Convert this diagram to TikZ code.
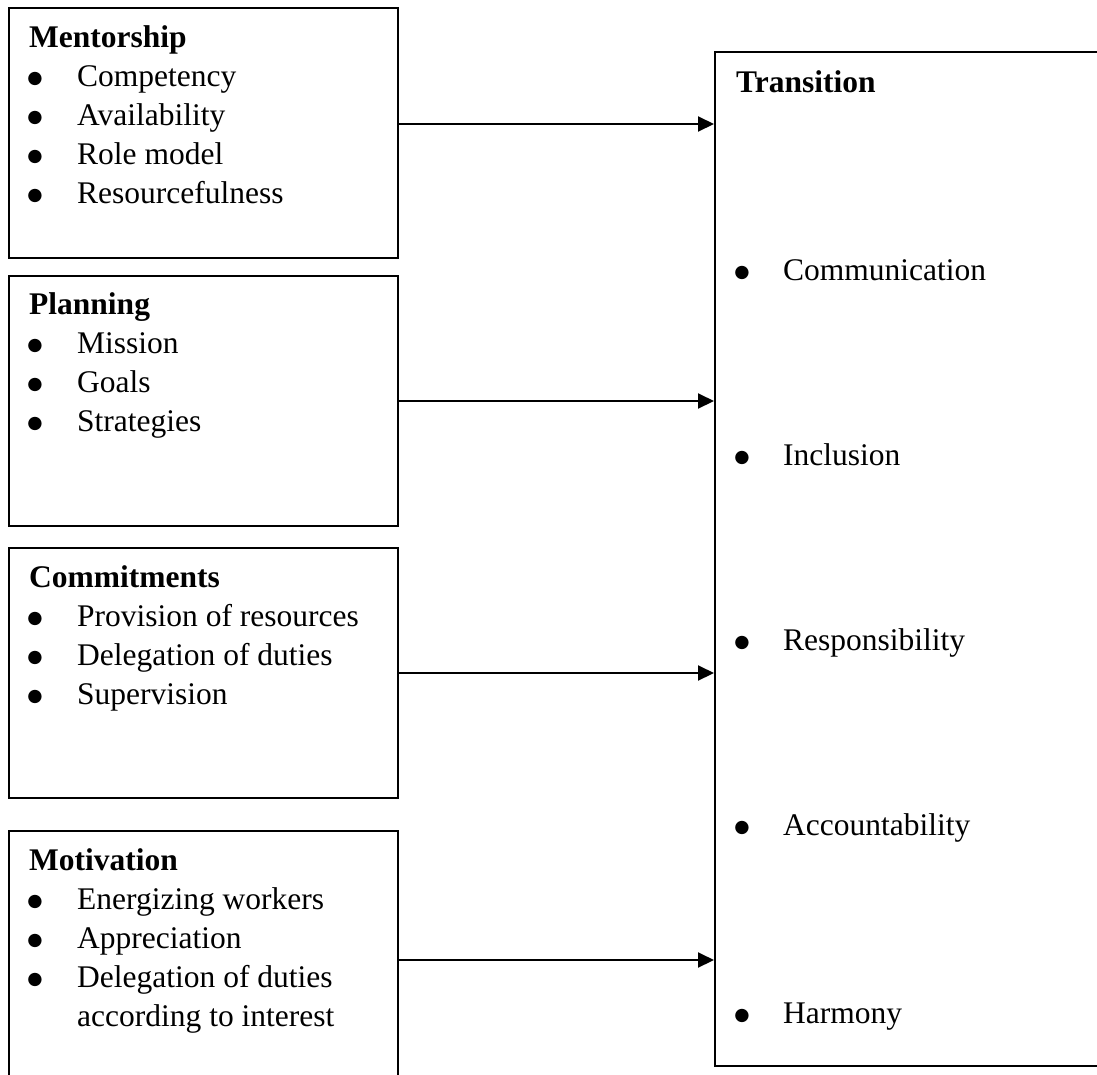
\documentclass[tikz,border=0pt]{standalone}
\usepackage{fontspec}
\setmainfont{Liberation Serif}
\newfontfamily\bulletfont{DejaVu Sans}
\usetikzlibrary{arrows.meta}
\begin{document}
\begin{tikzpicture}[x=1pt,y=-1pt,
  box/.style={draw, line width=2pt, inner sep=0pt, anchor=north west},
  txt/.style={anchor=base west, inner sep=0pt, font=\fontsize{31.5}{39}\selectfont},
  head/.style={anchor=base west, inner sep=0pt, font=\fontsize{31.5}{39}\selectfont\bfseries},
  bul/.style={anchor=base, inner sep=0pt, yshift=2.5pt, font=\bulletfont\fontsize{17.5}{17.5}\selectfont},
  arr/.style={line width=2pt, -{Triangle[length=16pt,width=15pt]}}]
\useasboundingbox (0,0) rectangle (1097,1074);
\clip (0,0) rectangle (1097,1074);

% left boxes
\node[box, minimum width=389pt, minimum height=250pt] (b1) at (8,7) {};
\node[box, minimum width=389pt, minimum height=250pt] (b2) at (8,275) {};
\node[box, minimum width=389pt, minimum height=250pt] (b3) at (8,547) {};
\node[box, minimum width=389pt, minimum height=260pt] (b4) at (8,830) {};
% right box
\node[box, minimum width=400pt, minimum height=1014pt] (tr) at (714,51) {};

% Mentorship
\node[head] (h1) at (29,47) {Mentorship};
\node[bul] (b1d1) at (35,86) {●};  \node[txt] (b1t1) at (77,86) {Competency};
\node[bul] (b1d2) at (35,125) {●}; \node[txt] (b1t2) at (77,125) {Availability};
\node[bul] (b1d3) at (35,164) {●}; \node[txt] (b1t3) at (77,164) {Role model};
\node[bul] (b1d4) at (35,203) {●}; \node[txt] (b1t4) at (77,203) {Resourcefulness};

% Planning
\node[head] (h2) at (29,314) {Planning};
\node[bul] (b2d1) at (35,353) {●}; \node[txt] (b2t1) at (77,353) {Mission};
\node[bul] (b2d2) at (35,392) {●}; \node[txt] (b2t2) at (77,392) {Goals};
\node[bul] (b2d3) at (35,431) {●}; \node[txt] (b2t3) at (77,431) {Strategies};

% Commitments
\node[head] (h3) at (29,587) {Commitments};
\node[bul] (b3d1) at (35,626) {●}; \node[txt] (b3t1) at (77,626) {Provision of resources};
\node[bul] (b3d2) at (35,665) {●}; \node[txt] (b3t2) at (77,665) {Delegation of duties};
\node[bul] (b3d3) at (35,704) {●}; \node[txt] (b3t3) at (77,704) {Supervision};

% Motivation
\node[head] (h4) at (29,870) {Motivation};
\node[bul] (b4d1) at (35,909) {●}; \node[txt] (b4t1) at (77,909) {Energizing workers};
\node[bul] (b4d2) at (35,948) {●}; \node[txt] (b4t2) at (77,948) {Appreciation};
\node[bul] (b4d3) at (35,987) {●}; \node[txt] (b4t3) at (77,987) {Delegation of duties};
\node[txt] (b4t4) at (77,1026) {according to interest};

% Transition
\node[head] (h5) at (736,92) {Transition};
\node[bul] (trd1) at (742,280) {●};  \node[txt] (trt1) at (783,280) {Communication};
\node[bul] (trd2) at (742,465) {●};  \node[txt] (trt2) at (783,465) {Inclusion};
\node[bul] (trd3) at (742,650) {●};  \node[txt] (trt3) at (783,650) {Responsibility};
\node[bul] (trd4) at (742,835) {●};  \node[txt] (trt4) at (783,835) {Accountability};
\node[bul] (trd5) at (742,1023) {●}; \node[txt] (trt5) at (783,1023) {Harmony};

% connectors
\coordinate (a1) at (0,124);
\coordinate (a2) at (0,401);
\coordinate (a3) at (0,673);
\coordinate (a4) at (0,960);
\draw[arr] (b1.east |- a1) -- (tr.west |- a1);
\draw[arr] (b2.east |- a2) -- (tr.west |- a2);
\draw[arr] (b3.east |- a3) -- (tr.west |- a3);
\draw[arr] (b4.east |- a4) -- (tr.west |- a4);
\end{tikzpicture}
\end{document}
